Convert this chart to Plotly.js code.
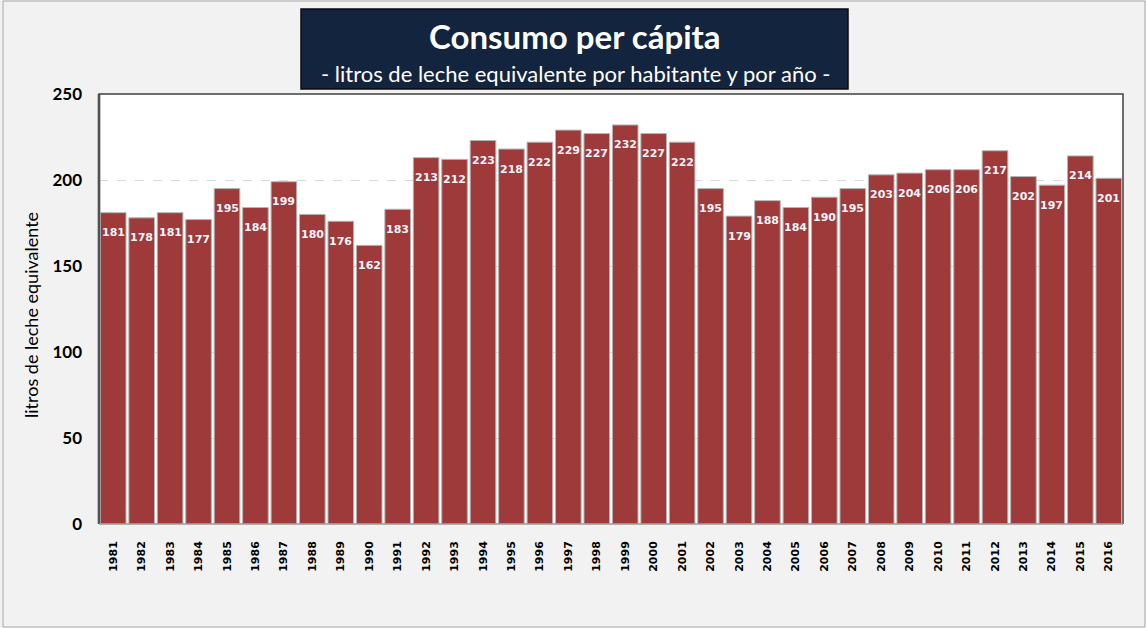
<!DOCTYPE html>
<html><head><meta charset="utf-8">
<script src="https://cdn.plot.ly/plotly-3.0.1.min.js"></script>
<style>html,body{margin:0;padding:0;background:#f2f2f2;}#c{width:1146px;height:628px;}</style>
</head><body><div id="c"></div>
<script>
const years = ["1981","1982","1983","1984","1985","1986","1987","1988","1989","1990","1991","1992","1993","1994","1995","1996","1997","1998","1999","2000","2001","2002","2003","2004","2005","2006","2007","2008","2009","2010","2011","2012","2013","2014","2015","2016"];
const consumo = [181,178,181,177,195,184,199,180,176,162,183,213,212,223,218,222,229,227,232,227,222,195,179,188,184,190,195,203,204,206,206,217,202,197,214,201];
const yTicks = [0,50,100,150,200,250];
const titleText = "Consumo per cápita";
const subtitleText = "- litros de leche equivalente por habitante y por año -";
const yTitle = "litros de leche equivalente";

const W = 1146, H = 628, L = 99, R = 23, T = 94, B = 104;
const pw = W - L - R, ph = H - T - B;
const px = x => (x - L) / pw;
const py = y => (H - B - y) / ph;

const trace = {
  type: 'bar', x: years, y: consumo,
  marker: {color: '#9e3a3a', line: {color: '#b5b5b5', width: 1}},
  hoverinfo: 'x+y'
};

const labels = years.map((yr, i) => ({
  x: i, y: consumo[i], xref: 'x', yref: 'y', text: String(consumo[i]),
  showarrow: false, yshift: -20, yanchor: 'middle',
  font: {family: 'DejaVu Sans', size: 11, color: '#f4f4fa', weight: 'bold'}
}));

const layout = {
  width: W, height: H,
  margin: {l: L, r: R, t: T, b: B},
  paper_bgcolor: '#f2f2f2', plot_bgcolor: '#ffffff',
  showlegend: false, bargap: 0.1,
  xaxis: {
    type: 'category', range: [-0.5, years.length - 0.5], autorange: false,
    tickangle: -90, showgrid: false, zeroline: false,
    ticks: '', showline: false, ticklabelstandoff: 14,
    tickfont: {family: 'DejaVu Sans', size: 11, color: '#000', weight: 'bold'}
  },
  yaxis: {
    range: [0, 250], autorange: false, tickvals: yTicks, showline: false, zeroline: false,
    gridcolor: '#d9d9d9', griddash: 'dash', gridwidth: 1,
    tickfont: {family: 'Lato', size: 17, color: '#000', weight: 'bold'},
    ticklabelstandoff: 16
  },
  shapes: [
    {type: 'rect', xref: 'paper', yref: 'paper', x0: px(3), x1: px(1145), y0: py(627), y1: py(1),
      line: {color: '#a6a6a6', width: 1}, fillcolor: 'rgba(0,0,0,0)', layer: 'below'},
    {type: 'line', xref: 'paper', yref: 'paper', x0: px(L), x1: px(L), y0: 0, y1: 1, line: {color: '#8a8a8a', width: 3}},
    {type: 'path', xref: 'paper', yref: 'paper',
      path: `M ${px(L)} 0 L ${px(L)} 1 L 1 1 L 1 0`, line: {color: '#404040', width: 1.5}},
    {type: 'line', xref: 'paper', yref: 'paper', x0: 0, x1: 1, y0: 0, y1: 0, line: {color: '#9a9a9a', width: 1.5}},
    {type: 'rect', xref: 'paper', yref: 'paper', x0: px(301), x1: px(848), y0: py(89), y1: py(9),
      fillcolor: '#13243f', line: {color: '#0b0b0b', width: 1.5}}
  ],
  annotations: labels.concat([
    {xref: 'paper', yref: 'paper', x: px(575), y: py(36), yanchor: 'middle', xanchor: 'center', text: titleText, showarrow: false,
      font: {family: 'Lato', size: 33, color: '#ffffff', weight: 'bold'}},
    {xref: 'paper', yref: 'paper', x: px(575), y: py(73), yanchor: 'middle', xanchor: 'center', text: subtitleText, showarrow: false,
      font: {family: 'Lato', size: 22, color: '#ffffff'}},
    {xref: 'paper', yref: 'paper', x: px(31), y: py(315), yanchor: 'middle', xanchor: 'center', textangle: -90,
      text: yTitle, showarrow: false, font: {family: 'Lato', size: 18, color: '#000'}}
  ])
};

Plotly.newPlot('c', [trace], layout, {displayModeBar: false, staticPlot: true});
</script></body></html>
